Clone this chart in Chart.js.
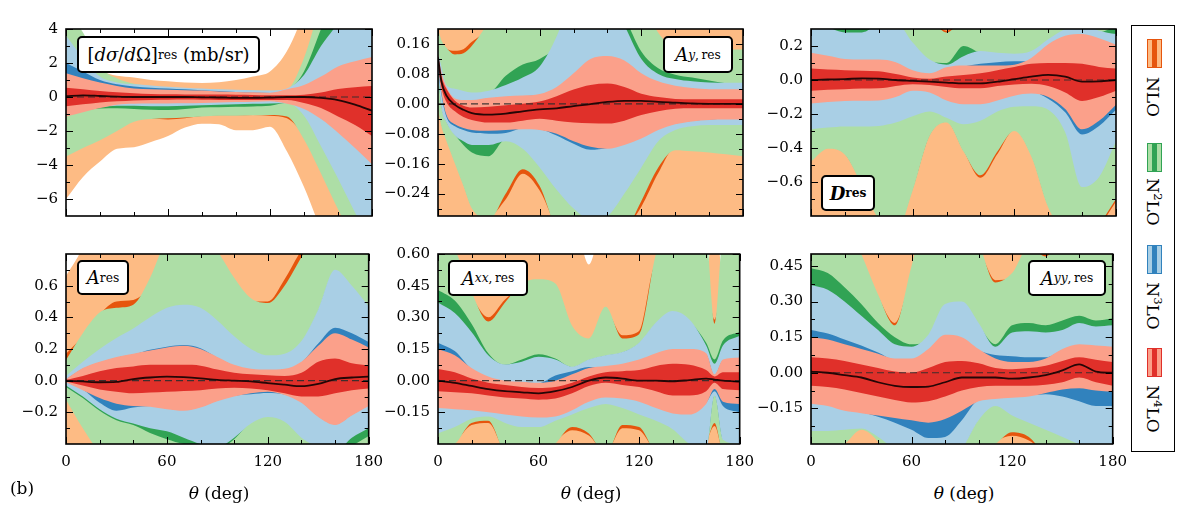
<!DOCTYPE html>
<html>
<head>
<meta charset="utf-8">
<script src="https://cdn.jsdelivr.net/npm/chart.js@4"></script>
<style>
  body { margin: 0; background: #fff; }
  #fig { position: relative; width: 1192px; height: 519px; overflow: hidden; font-family: "DejaVu Serif", serif; color: #000; }
  #fig canvas { position: absolute; z-index: 1; }
  .lab { position: absolute; z-index: 5; box-sizing: border-box; border: 2px solid #000; border-radius: 5px; background: #fff;
         display: flex; align-items: center; justify-content: center; font-size: 18px; white-space: nowrap; }
  sub { font-size: 0.68em; vertical-align: -0.38em; line-height: 0; }
  sup { font-size: 0.68em; vertical-align: 0.45em; line-height: 0; }
  .ax { position: absolute; z-index: 5; font-size: 17px; transform: translate(-50%, -50%); white-space: nowrap; }
  #legend { position: absolute; z-index: 5; left: 1131px; top: 25px; width: 44px; height: 427px; box-sizing: border-box; border: 1.5px solid #000; background: #fff; }
  .sw { position: absolute; width: 15px; height: 29px; box-sizing: border-box; }
  .lt { position: absolute; writing-mode: vertical-rl; font-size: 17px; transform: translate(-50%, -50%); white-space: nowrap; }
</style>
</head>
<body>
<div id="fig">
  <div class="lab" style="left:77px;top:36px;width:183px;height:37px;">[<i>dσ</i>/<i>d</i>Ω]<sub>res</sub>&nbsp;(mb/sr)</div>
  <div class="lab" style="left:663px;top:36px;width:70px;height:37px;"><i>A</i><sub><i>y</i>,&thinsp;res</sub></div>
  <div class="lab" style="left:821px;top:175px;width:54px;height:36px;"><b><i>D</i></b><sub><b>res</b></sub></div>
  <div class="lab" style="left:77px;top:260px;width:52px;height:35px;"><i>A</i><sub>res</sub></div>
  <div class="lab" style="left:448px;top:260px;width:80px;height:36px;"><i>A</i><sub><i>xx</i>,&thinsp;res</sub></div>
  <div class="lab" style="left:1028px;top:260px;width:78px;height:36px;"><i>A</i><sub><i>yy</i>,&thinsp;res</sub></div>

  <div class="ax" style="left:219px;top:493px;"><i>θ</i> (deg)</div>
  <div class="ax" style="left:591px;top:493px;"><i>θ</i> (deg)</div>
  <div class="ax" style="left:964px;top:493px;"><i>θ</i> (deg)</div>
  <div class="ax" style="left:22px;top:488px;">(b)</div>

  <div id="legend"></div>
</div>
<script>
// ---- x axis ticks (deg) ----
const xMajor = [0, 60, 120, 180];
const xMinor = [20, 40, 80, 100, 140, 160];

// ---- [dsigma/dOmega]_res (mb/sr) ----
const dsdoTheta = [0,10,20,30,40,50,60,70,80,90,100,110,120,130,140,150,160,170,180];
const dsdoYRange = [-7, 4];
const dsdoYTicks = [-6, -4, -2, 0, 2, 4];
const dsdoCenter   = [0.05,0.1,0.06,0.02,0,0,0,0,-0.02,-0.03,-0.05,-0.05,-0.03,0,0,-0.05,-0.18,-0.45,-0.8];
const dsdoN4LOhi68 = [0.55,0.45,0.35,0.28,0.22,0.18,0.16,0.15,0.15,0.14,0.13,0.12,0.1,0.1,0.13,0.26,0.47,0.58,0.64];
const dsdoN4LOlo68 = [-0.55,-0.43,-0.32,-0.25,-0.2,-0.17,-0.16,-0.15,-0.16,-0.17,-0.18,-0.18,-0.17,-0.18,-0.35,-0.65,-1.15,-1.65,-2.3];
const dsdoN4LOhi95 = [1.4,1.1,0.85,0.65,0.5,0.45,0.42,0.4,0.38,0.32,0.3,0.28,0.25,0.45,0.7,1.2,1.8,2.1,2.35];
const dsdoN4LOlo95 = [-1.15,-0.9,-0.65,-0.45,-0.4,-0.38,-0.38,-0.37,-0.35,-0.33,-0.3,-0.28,-0.25,-0.4,-0.7,-1.3,-2.1,-3.0,-3.95];
const dsdoN3LOhi95 = [3.6,2.3,1.2,0.85,0.75,0.68,0.6,0.55,0.5,0.45,0.42,0.4,0.38,0.5,1.3,3.0,4.4,6.5,8.5];
const dsdoN3LOhi68 = [2.0,1.5,1.0,0.75,0.62,0.55,0.5,0.45,0.4,0.35,0.29,0.27,0.24,0.3,0.5,0.9,1.5,2.0,2.2];
const dsdoN3LOlo68 = [-0.9,-0.7,-0.5,-0.38,-0.33,-0.32,-0.32,-0.32,-0.3,-0.28,-0.26,-0.24,-0.22,-0.35,-0.6,-1.1,-1.8,-2.6,-3.4];
const dsdoN3LOlo95 = [-1.0,-0.8,-0.6,-0.52,-0.52,-0.55,-0.55,-0.52,-0.48,-0.45,-0.42,-0.4,-0.38,-0.37,-1.1,-2.9,-4.8,-6.8,-8.8];
const dsdoN2LOhi95 = [5.0,3.8,1.8,1.1,0.78,0.65,0.55,0.5,0.45,0.42,0.4,0.38,0.36,0.45,2.3,5.5,8.0,10,12];
const dsdoN2LOhi68 = [3.5,2.2,1.15,0.8,0.7,0.6,0.5,0.45,0.42,0.4,0.38,0.36,0.34,0.42,1.5,4.0,6.5,7.0,8.0];
const dsdoN2LOlo68 = [-0.95,-0.78,-0.68,-0.66,-0.7,-0.75,-0.76,-0.7,-0.62,-0.6,-0.58,-0.56,-0.52,-0.34,-0.9,-2.7,-4.6,-6.6,-8.6];
const dsdoN2LOlo95 = [-3.5,-3.0,-2.55,-2.0,-1.45,-1.3,-1.25,-1.2,-1.15,-1.1,-1.1,-1.08,-1.06,-1.15,-2.5,-4.5,-6.6,-8.5,-10];
const dsdoNLOhi95  = [2.0,1.8,1.5,1.25,1.15,1.0,0.92,0.85,0.83,0.87,1.0,1.2,1.5,2.7,5.0,8.0,11,14,17];
const dsdoNLOhi68  = [1.5,1.3,1.0,0.7,0.5,0.45,0.4,0.35,0.35,0.35,0.35,0.35,0.33,0.4,1.5,3.5,5,7,9];
const dsdoNLOlo68  = [-3.3,-2.9,-2.45,-1.9,-1.4,-1.28,-1.32,-1.25,-1.12,-1.08,-1.08,-1.06,-1.1,-1.25,-2.3,-4.3,-6.4,-8.3,-9.8];
const dsdoNLOlo95  = [-6.0,-4.7,-3.8,-3.05,-2.95,-2.65,-2.3,-1.8,-1.57,-1.6,-1.95,-1.95,-1.75,-3.2,-5.3,-7.8,-10,-12,-14];

// ---- A_y,res ----
const AyTheta = [0,2,5,10,15,20,30,40,50,60,70,80,90,100,110,120,130,140,150,160,170,180];
const AyYRange = [-0.3, 0.2];
const AyYTicks = [-0.24, -0.16, -0.08, 0, 0.08, 0.16];
const AyCenter   = [0.124,0.06,0.022,-0.003,-0.016,-0.025,-0.029,-0.026,-0.02,-0.015,-0.012,-0.006,-0.001,0.005,0.008,0.008,0.005,0.003,0.001,0,0,0];
const AyN4LOhi68 = [0.13,0.075,0.04,0.008,-0.005,-0.01,-0.008,-0.004,0.0,0.006,0.02,0.038,0.05,0.054,0.045,0.027,0.018,0.013,0.012,0.012,0.012,0.012];
const AyN4LOlo68 = [0.11,0.045,0.005,-0.02,-0.035,-0.043,-0.05,-0.05,-0.045,-0.04,-0.045,-0.05,-0.052,-0.053,-0.045,-0.03,-0.02,-0.013,-0.012,-0.012,-0.012,-0.012];
const AyN4LOhi95 = [0.135,0.085,0.045,0.014,0.01,0.01,0.016,0.02,0.022,0.026,0.045,0.082,0.12,0.128,0.116,0.082,0.06,0.048,0.042,0.039,0.039,0.039];
const AyN4LOlo95 = [0.1,0.03,-0.03,-0.055,-0.065,-0.07,-0.072,-0.07,-0.068,-0.07,-0.08,-0.1,-0.115,-0.12,-0.11,-0.093,-0.07,-0.055,-0.047,-0.043,-0.042,-0.042];
const AyN3LOhi95 = [0.14,0.1,0.05,0.04,0.034,0.03,0.035,0.05,0.07,0.1,0.18,0.3,0.35,0.3,0.21,0.12,0.08,0.066,0.06,0.057,0.056,0.056];
const AyN3LOhi68 = [0.132,0.08,0.04,0.01,0.008,0.008,0.014,0.018,0.02,0.024,0.04,0.075,0.11,0.12,0.11,0.078,0.056,0.045,0.04,0.037,0.037,0.037];
const AyN3LOlo68 = [0.09,0.025,-0.035,-0.06,-0.07,-0.077,-0.08,-0.078,-0.066,-0.068,-0.085,-0.107,-0.123,-0.118,-0.105,-0.09,-0.067,-0.053,-0.045,-0.042,-0.04,-0.04];
const AyN3LOlo95 = [0.085,-0.01,-0.05,-0.085,-0.1,-0.11,-0.11,-0.1,-0.12,-0.17,-0.23,-0.28,-0.31,-0.3,-0.24,-0.17,-0.1,-0.07,-0.06,-0.057,-0.057,-0.057];
const AyN2LOhi95 = [0.2,0.17,0.15,0.132,0.135,0.155,0.22,0.3,0.35,0.38,0.4,0.42,0.42,0.4,0.35,0.28,0.19,0.15,0.145,0.145,0.145,0.145];
const AyN2LOhi68 = [0.12,0.06,0.045,0.035,0.03,0.028,0.03,0.075,0.105,0.12,0.16,0.28,0.33,0.29,0.23,0.14,0.095,0.078,0.07,0.062,0.055,0.05];
const AyN2LOlo68 = [0.08,-0.005,-0.048,-0.083,-0.11,-0.13,-0.14,-0.095,-0.115,-0.16,-0.22,-0.27,-0.3,-0.29,-0.23,-0.16,-0.095,-0.065,-0.055,-0.053,-0.053,-0.053];
const AyN2LOlo95 = [-0.016,-0.06,-0.1,-0.16,-0.22,-0.28,-0.31,-0.24,-0.175,-0.22,-0.34,-0.4,-0.42,-0.4,-0.35,-0.26,-0.17,-0.124,-0.127,-0.13,-0.135,-0.14];
const AyNLOhi95  = [0.35,0.35,0.35,0.35,0.35,0.32,0.19,0.2,0.25,0.25,0.25,0.25,0.25,0.25,0.25,0.25,0.3,0.35,0.35,0.35,0.35,0.35];
const AyNLOhi68  = [0.19,0.165,0.148,0.142,0.146,0.166,0.19,0.15,0.15,0.15,0.15,0.15,0.15,0.15,0.15,0.15,0.12,0.12,0.12,0.12,0.12,0.12];
const AyNLOlo68  = [-0.01,-0.055,-0.095,-0.155,-0.215,-0.275,-0.3,-0.255,-0.187,-0.232,-0.33,-0.39,-0.41,-0.39,-0.34,-0.275,-0.185,-0.118,-0.12,-0.125,-0.13,-0.135];
const AyNLOlo95  = [-0.5,-0.5,-0.5,-0.5,-0.5,-0.5,-0.5,-0.5,-0.5,-0.5,-0.5,-0.5,-0.5,-0.5,-0.5,-0.5,-0.5,-0.5,-0.5,-0.5,-0.5,-0.5];

// ---- D_res ----
const DTheta = [0,10,20,30,40,50,60,70,80,90,100,110,120,130,140,150,160,170,180];
const DYRange = [-0.8, 0.3];
const DYTicks = [-0.6, -0.4, -0.2, 0, 0.2];
const DCenter   = [0,0.003,0.005,0.01,0.008,0,-0.005,-0.01,-0.015,-0.02,-0.02,-0.01,0.005,0.02,0.03,0.02,-0.01,-0.008,0];
const DN4LOhi68 = [0.067,0.062,0.058,0.055,0.052,0.035,0.015,0.007,0.02,0.03,0.04,0.058,0.077,0.095,0.1,0.1,0.095,0.077,0.067];
const DN4LOlo68 = [-0.063,-0.058,-0.054,-0.05,-0.049,-0.035,-0.025,-0.03,-0.041,-0.049,-0.049,-0.035,-0.026,-0.022,-0.035,-0.073,-0.123,-0.1,-0.063];
const DN4LOhi95 = [0.16,0.142,0.123,0.12,0.12,0.105,0.058,0.04,0.075,0.085,0.085,0.085,0.09,0.13,0.21,0.26,0.27,0.245,0.207];
const DN4LOlo95 = [-0.138,-0.13,-0.123,-0.122,-0.12,-0.1,-0.063,-0.073,-0.12,-0.142,-0.142,-0.12,-0.092,-0.08,-0.1,-0.17,-0.29,-0.24,-0.145];
const DN3LOhi95 = [0.34,0.31,0.28,0.28,0.33,0.34,0.22,0.12,0.09,0.14,0.17,0.16,0.155,0.17,0.24,0.3,0.33,0.29,0.27];
const DN3LOhi68 = [0.15,0.135,0.115,0.113,0.113,0.1,0.05,0.035,0.07,0.08,0.095,0.105,0.11,0.11,0.15,0.18,0.2,0.2,0.18];
const DN3LOlo68 = [-0.128,-0.12,-0.113,-0.112,-0.11,-0.09,-0.055,-0.065,-0.11,-0.132,-0.132,-0.11,-0.083,-0.07,-0.11,-0.19,-0.32,-0.27,-0.175];
const DN3LOlo95 = [-0.29,-0.28,-0.273,-0.273,-0.27,-0.25,-0.213,-0.185,-0.222,-0.26,-0.24,-0.185,-0.157,-0.155,-0.175,-0.307,-0.63,-0.57,-0.36];
const DN2LOhi95 = [0.4,0.4,0.4,0.4,0.4,0.4,0.4,0.36,0.28,0.36,0.4,0.4,0.4,0.4,0.4,0.4,0.4,0.4,0.4];
const DN2LOhi68 = [0.3,0.3,0.33,0.33,0.3,0.3,0.2,0.11,0.1,0.2,0.16,0.15,0.15,0.16,0.23,0.29,0.32,0.28,0.32];
const DN2LOlo68 = [-0.28,-0.27,-0.263,-0.263,-0.26,-0.24,-0.2,-0.175,-0.21,-0.25,-0.23,-0.175,-0.147,-0.145,-0.165,-0.29,-0.6,-0.55,-0.35];
const DN2LOlo95 = [-0.48,-0.405,-0.44,-0.62,-0.82,-0.9,-0.65,-0.33,-0.25,-0.42,-0.56,-0.42,-0.3,-0.45,-0.75,-0.9,-0.95,-0.85,-0.7];
const DNLOhi95  = [0.5,0.5,0.5,0.5,0.5,0.5,0.5,0.5,0.5,0.5,0.5,0.5,0.5,0.5,0.5,0.5,0.5,0.5,0.5];
const DNLOhi68  = [0.35,0.35,0.35,0.35,0.35,0.35,0.35,0.35,0.29,0.35,0.35,0.35,0.35,0.35,0.35,0.35,0.35,0.35,0.35];
const DNLOlo68  = [-0.47,-0.4,-0.435,-0.61,-0.8,-0.88,-0.64,-0.325,-0.245,-0.415,-0.575,-0.435,-0.295,-0.44,-0.74,-0.88,-0.93,-0.86,-0.715];
const DNLOlo95  = [-1.5,-1.5,-1.5,-1.5,-1.5,-1.5,-1.5,-1.5,-1.5,-1.5,-1.5,-1.5,-1.5,-1.5,-1.5,-1.5,-1.5,-1.5,-1.5];

// ---- A_res ----
const ATheta = [0,10,20,30,40,50,60,70,80,90,100,110,120,130,140,150,160,170,180];
const AYRange = [-0.4, 0.8];
const AYTicks = [-0.2, 0, 0.2, 0.4, 0.6];
const ACenter   = [0,-0.005,-0.01,-0.008,0.01,0.02,0.025,0.022,0.015,0.005,0,-0.005,-0.015,-0.025,-0.035,-0.02,0.01,0.02,0.025];
const AN4LOhi68 = [0.005,0.03,0.06,0.08,0.09,0.1,0.1,0.1,0.095,0.07,0.05,0.04,0.035,0.03,0.05,0.12,0.14,0.11,0.095];
const AN4LOlo68 = [-0.005,-0.03,-0.055,-0.07,-0.08,-0.075,-0.07,-0.065,-0.06,-0.05,-0.045,-0.05,-0.06,-0.08,-0.1,-0.1,-0.08,-0.06,-0.05];
const AN4LOhi95 = [0.01,0.08,0.12,0.15,0.17,0.19,0.21,0.22,0.2,0.15,0.1,0.075,0.07,0.075,0.12,0.22,0.3,0.26,0.21];
const AN4LOlo95 = [-0.01,-0.06,-0.11,-0.145,-0.16,-0.165,-0.18,-0.19,-0.17,-0.13,-0.1,-0.08,-0.07,-0.09,-0.14,-0.23,-0.28,-0.22,-0.16];
const AN3LOhi95 = [0.03,0.12,0.2,0.27,0.33,0.4,0.46,0.48,0.46,0.38,0.28,0.2,0.16,0.17,0.25,0.45,0.7,0.6,0.47];
const AN3LOhi68 = [0.008,0.075,0.115,0.145,0.165,0.195,0.215,0.225,0.205,0.145,0.095,0.07,0.065,0.07,0.115,0.235,0.335,0.3,0.245];
const AN3LOlo68 = [-0.008,-0.055,-0.14,-0.19,-0.17,-0.16,-0.175,-0.185,-0.165,-0.125,-0.095,-0.085,-0.078,-0.088,-0.135,-0.225,-0.275,-0.215,-0.155];
const AN3LOlo95 = [-0.03,-0.1,-0.18,-0.24,-0.27,-0.3,-0.32,-0.36,-0.4,-0.42,-0.36,-0.27,-0.23,-0.26,-0.36,-0.42,-0.45,-0.36,-0.3];
const AN2LOhi95 = [0.13,0.3,0.43,0.46,0.48,0.65,0.9,1.0,0.95,0.82,0.65,0.52,0.49,0.6,0.78,0.95,1.0,1.0,1.0];
const AN2LOhi68 = [0.02,0.11,0.19,0.26,0.32,0.39,0.45,0.47,0.45,0.37,0.27,0.19,0.15,0.16,0.24,0.44,0.69,0.59,0.46];
const AN2LOlo68 = [-0.04,-0.11,-0.19,-0.25,-0.28,-0.33,-0.37,-0.4,-0.41,-0.43,-0.37,-0.26,-0.22,-0.25,-0.35,-0.41,-0.44,-0.41,-0.35];
const AN2LOlo95 = [-0.12,-0.3,-0.45,-0.5,-0.5,-0.5,-0.5,-0.5,-0.5,-0.5,-0.5,-0.5,-0.5,-0.5,-0.5,-0.5,-0.5,-0.5,-0.5];
const ANLOhi95  = [0.66,0.85,1.2,1.2,1.2,1.2,1.2,1.2,1.2,1.2,1.2,1.2,1.2,1.2,1.2,1.2,1.2,1.2,1.2];
const ANLOhi68  = [0.17,0.28,0.42,0.5,0.51,0.6,0.8,0.9,0.85,0.75,0.6,0.5,0.5,0.64,0.82,0.9,0.9,0.9,0.9];
const ANLOlo68  = [-0.11,-0.29,-0.44,-0.49,-0.49,-0.49,-0.49,-0.49,-0.49,-0.49,-0.49,-0.49,-0.49,-0.49,-0.49,-0.49,-0.49,-0.49,-0.49];
const ANLOlo95  = [-1,-1,-1,-1,-1,-1,-1,-1,-1,-1,-1,-1,-1,-1,-1,-1,-1,-1,-1];

// ---- A_xx,res ----
const AxxTheta = [0,10,20,30,40,50,60,70,80,90,100,110,120,130,140,150,160,165,170,180];
const AxxYRange = [-0.3, 0.6];
const AxxYTicks = [-0.15, 0, 0.15, 0.3, 0.45, 0.6];
const AxxCenter   = [0,-0.01,-0.025,-0.04,-0.05,-0.055,-0.06,-0.05,-0.03,0,0.015,0.01,0,0,-0.003,0.003,0.01,0.005,0,-0.005];
const AxxN4LOhi68 = [0.055,0.04,0.01,-0.01,-0.02,-0.03,-0.035,-0.03,-0.01,0.02,0.04,0.045,0.05,0.07,0.08,0.075,0.05,0.02,0.04,0.04];
const AxxN4LOlo68 = [-0.05,-0.055,-0.06,-0.07,-0.08,-0.085,-0.09,-0.085,-0.06,-0.025,-0.01,-0.02,-0.03,-0.05,-0.07,-0.07,-0.05,-0.01,-0.04,-0.045];
const AxxN4LOhi95 = [0.15,0.12,0.06,0.02,0,-0.005,-0.01,0,0.03,0.06,0.07,0.08,0.1,0.13,0.15,0.15,0.13,0.03,0.1,0.11];
const AxxN4LOlo95 = [-0.13,-0.135,-0.14,-0.15,-0.16,-0.17,-0.175,-0.17,-0.14,-0.1,-0.08,-0.085,-0.1,-0.13,-0.155,-0.16,-0.11,-0.04,-0.1,-0.11];
const AxxN3LOhi95 = [0.37,0.32,0.23,0.12,0.077,0.09,0.113,0.1,0.066,0.1,0.12,0.136,0.18,0.275,0.33,0.29,0.167,0.08,0.167,0.213];
const AxxN3LOhi68 = [0.18,0.14,0.055,0.015,-0.005,-0.008,-0.012,0.025,0.045,0.065,0.065,0.075,0.095,0.125,0.145,0.145,0.125,0.025,0.095,0.105];
const AxxN3LOlo68 = [-0.125,-0.13,-0.135,-0.145,-0.155,-0.165,-0.17,-0.165,-0.135,-0.095,-0.075,-0.08,-0.095,-0.125,-0.15,-0.155,-0.105,-0.05,-0.12,-0.15];
const AxxN3LOlo95 = [-0.25,-0.22,-0.18,-0.17,-0.2,-0.22,-0.22,-0.19,-0.16,-0.13,-0.11,-0.13,-0.16,-0.19,-0.23,-0.3,-0.33,-0.07,-0.28,-0.3];
const AxxN2LOhi95 = [0.7,0.62,0.42,0.28,0.37,0.46,0.48,0.46,0.26,0.2,0.35,0.2,0.22,0.6,0.8,0.8,0.7,0.27,0.7,0.8];
const AxxN2LOhi68 = [0.43,0.38,0.27,0.13,0.075,0.1,0.125,0.105,0.064,0.098,0.118,0.134,0.176,0.27,0.32,0.28,0.18,0.1,0.19,0.23];
const AxxN2LOlo68 = [-0.245,-0.215,-0.175,-0.165,-0.195,-0.215,-0.215,-0.185,-0.155,-0.125,-0.105,-0.125,-0.155,-0.185,-0.225,-0.295,-0.325,-0.065,-0.275,-0.295];
const AxxN2LOlo95 = [-0.32,-0.3,-0.2,-0.19,-0.35,-0.4,-0.38,-0.3,-0.22,-0.25,-0.35,-0.21,-0.22,-0.35,-0.4,-0.4,-0.3,-0.2,-0.35,-0.4];
const AxxNLOhi95  = [0.65,0.7,0.8,0.8,0.8,0.8,0.8,0.8,0.8,0.55,0.8,0.8,0.8,0.65,0.5,0.5,0.5,0.8,0.5,0.5];
const AxxNLOhi68  = [0.6,0.55,0.4,0.3,0.385,0.44,0.45,0.44,0.25,0.19,0.33,0.215,0.235,0.55,0.45,0.45,0.45,0.29,0.45,0.45];
const AxxNLOlo68  = [-0.31,-0.29,-0.21,-0.2,-0.34,-0.39,-0.37,-0.29,-0.235,-0.26,-0.34,-0.225,-0.235,-0.34,-0.39,-0.39,-0.29,-0.215,-0.34,-0.39];
const AxxNLOlo95  = [-1,-1,-1,-1,-1,-1,-1,-1,-1,-1,-1,-1,-1,-1,-1,-1,-1,-1,-1,-1];

// ---- A_yy,res ----
const AyyTheta = [0,10,20,30,40,50,60,70,80,90,100,110,120,130,140,150,160,170,180];
const AyyYRange = [-0.3, 0.5];
const AyyYTicks = [-0.15, 0, 0.15, 0.3, 0.45];
const AyyCenter   = [0.005,0,-0.01,-0.02,-0.04,-0.055,-0.06,-0.058,-0.04,-0.02,-0.02,-0.02,-0.025,-0.02,-0.01,0.01,0.035,0.005,0];
const AyyN4LOhi68 = [0.065,0.06,0.05,0.035,0.02,0.005,0,0.02,0.045,0.05,0.04,0.02,0.015,0.02,0.03,0.05,0.065,0.055,0.045];
const AyyN4LOlo68 = [-0.055,-0.06,-0.07,-0.085,-0.1,-0.115,-0.125,-0.12,-0.1,-0.075,-0.06,-0.055,-0.055,-0.055,-0.05,-0.04,-0.02,-0.04,-0.055];
const AyyN4LOhi95 = [0.15,0.14,0.12,0.1,0.08,0.06,0.06,0.1,0.16,0.15,0.1,0.06,0.045,0.045,0.06,0.1,0.12,0.115,0.11];
const AyyN4LOlo95 = [-0.13,-0.14,-0.16,-0.17,-0.18,-0.19,-0.2,-0.21,-0.195,-0.16,-0.12,-0.11,-0.105,-0.1,-0.085,-0.07,-0.065,-0.075,-0.08];
const AyyN3LOhi95 = [0.37,0.35,0.3,0.24,0.18,0.12,0.11,0.16,0.29,0.3,0.21,0.11,0.17,0.175,0.17,0.18,0.21,0.195,0.2];
const AyyN3LOhi68 = [0.18,0.165,0.14,0.115,0.085,0.055,0.055,0.095,0.155,0.145,0.095,0.075,0.07,0.065,0.065,0.095,0.115,0.11,0.105];
const AyyN3LOlo68 = [-0.125,-0.135,-0.155,-0.165,-0.185,-0.21,-0.24,-0.275,-0.27,-0.2,-0.115,-0.105,-0.1,-0.095,-0.09,-0.1,-0.12,-0.14,-0.14];
const AyyN3LOlo95 = [-0.245,-0.245,-0.24,-0.235,-0.27,-0.32,-0.34,-0.36,-0.36,-0.32,-0.2,-0.14,-0.18,-0.21,-0.24,-0.27,-0.3,-0.32,-0.33];
const AyyN2LOhi95 = [0.7,0.7,0.65,0.5,0.33,0.2,0.45,0.7,0.7,0.7,0.55,0.38,0.42,0.53,0.49,0.6,0.7,0.7,0.7];
const AyyN2LOhi68 = [0.44,0.42,0.36,0.29,0.21,0.15,0.12,0.14,0.28,0.29,0.2,0.12,0.2,0.21,0.2,0.22,0.24,0.22,0.23];
const AyyN2LOlo68 = [-0.24,-0.24,-0.235,-0.23,-0.265,-0.315,-0.335,-0.355,-0.355,-0.315,-0.195,-0.135,-0.175,-0.205,-0.235,-0.265,-0.295,-0.315,-0.325];
const AyyN2LOlo95 = [-0.35,-0.33,-0.3,-0.24,-0.29,-0.4,-0.4,-0.4,-0.4,-0.4,-0.35,-0.3,-0.25,-0.27,-0.35,-0.4,-0.4,-0.4,-0.4];
const AyyNLOhi95  = [0.6,0.6,0.6,0.8,0.8,0.8,0.8,0.6,0.6,0.6,0.8,0.8,0.8,0.55,0.55,0.5,0.5,0.5,0.5];
const AyyNLOhi68  = [0.5,0.5,0.5,0.45,0.32,0.21,0.4,0.5,0.5,0.5,0.5,0.39,0.4,0.5,0.5,0.5,0.5,0.5,0.5];
const AyyNLOlo68  = [-0.34,-0.32,-0.29,-0.235,-0.28,-0.39,-0.39,-0.39,-0.39,-0.39,-0.34,-0.29,-0.265,-0.285,-0.34,-0.39,-0.39,-0.39,-0.39];
const AyyNLOlo95  = [-1,-1,-1,-1,-1,-1,-1,-1,-1,-1,-1,-1,-1,-1,-1,-1,-1,-1,-1];

// ---- styling ----
const orders = ['NLO', 'N2LO', 'N3LO', 'N4LO'];
const orderLabels = ['NLO', 'N<sup>2</sup>LO', 'N<sup>3</sup>LO', 'N<sup>4</sup>LO'];
const palette = {
  NLO:  { light: '#fdbb84', dark: '#e6550d' },
  N2LO: { light: '#addea6', dark: '#31a354' },
  N3LO: { light: '#a9cfe5', dark: '#3182bd' },
  N4LO: { light: '#fba08a', dark: '#e0302a' }
};

// chart area boxes: [left, top, right, bottom] in page pixels
const panels = [
  { box: [66, 24, 372, 221], xlab: false, range: dsdoYRange, yticks: dsdoYTicks, dec: 0, theta: dsdoTheta, center: dsdoCenter,
    bands: [[dsdoNLOlo95, dsdoNLOlo68, dsdoNLOhi68, dsdoNLOhi95], [dsdoN2LOlo95, dsdoN2LOlo68, dsdoN2LOhi68, dsdoN2LOhi95],
            [dsdoN3LOlo95, dsdoN3LOlo68, dsdoN3LOhi68, dsdoN3LOhi95], [dsdoN4LOlo95, dsdoN4LOlo68, dsdoN4LOhi68, dsdoN4LOhi95]] },
  { box: [438, 24, 743, 221], xlab: false, range: AyYRange, yticks: AyYTicks, dec: 2, theta: AyTheta, center: AyCenter,
    bands: [[AyNLOlo95, AyNLOlo68, AyNLOhi68, AyNLOhi95], [AyN2LOlo95, AyN2LOlo68, AyN2LOhi68, AyN2LOhi95],
            [AyN3LOlo95, AyN3LOlo68, AyN3LOhi68, AyN3LOhi95], [AyN4LOlo95, AyN4LOlo68, AyN4LOhi68, AyN4LOhi95]] },
  { box: [811, 24, 1116, 221], xlab: false, range: DYRange, yticks: DYTicks, dec: 1, theta: DTheta, center: DCenter,
    bands: [[DNLOlo95, DNLOlo68, DNLOhi68, DNLOhi95], [DN2LOlo95, DN2LOlo68, DN2LOhi68, DN2LOhi95],
            [DN3LOlo95, DN3LOlo68, DN3LOhi68, DN3LOhi95], [DN4LOlo95, DN4LOlo68, DN4LOhi68, DN4LOhi95]] },
  { box: [66, 249, 372, 444], xlab: true, range: AYRange, yticks: AYTicks, dec: 1, theta: ATheta, center: ACenter,
    bands: [[ANLOlo95, ANLOlo68, ANLOhi68, ANLOhi95], [AN2LOlo95, AN2LOlo68, AN2LOhi68, AN2LOhi95],
            [AN3LOlo95, AN3LOlo68, AN3LOhi68, AN3LOhi95], [AN4LOlo95, AN4LOlo68, AN4LOhi68, AN4LOhi95]] },
  { box: [438, 249, 743, 444], xlab: true, range: AxxYRange, yticks: AxxYTicks, dec: 2, theta: AxxTheta, center: AxxCenter,
    bands: [[AxxNLOlo95, AxxNLOlo68, AxxNLOhi68, AxxNLOhi95], [AxxN2LOlo95, AxxN2LOlo68, AxxN2LOhi68, AxxN2LOhi95],
            [AxxN3LOlo95, AxxN3LOlo68, AxxN3LOhi68, AxxN3LOhi95], [AxxN4LOlo95, AxxN4LOlo68, AxxN4LOhi68, AxxN4LOhi95]] },
  { box: [811, 249, 1116, 444], xlab: true, range: AyyYRange, yticks: AyyYTicks, dec: 2, theta: AyyTheta, center: AyyCenter,
    bands: [[AyyNLOlo95, AyyNLOlo68, AyyNLOhi68, AyyNLOhi95], [AyyN2LOlo95, AyyN2LOlo68, AyyN2LOhi68, AyyN2LOhi95],
            [AyyN3LOlo95, AyyN3LOlo68, AyyN3LOhi68, AyyN3LOhi95], [AyyN4LOlo95, AyyN4LOlo68, AyyN4LOhi68, AyyN4LOhi95]] }
];

const YW = 62, PAD_T = 12, PAD_R = 20;
const tickFont = { family: 'DejaVu Serif', size: 15 };

function fmt(v, dec) {
  const s = Math.abs(v).toFixed(dec);
  return (v < 0 && Number(s) !== 0 ? '\u2212' : '') + s;
}

// inward tick marks and black frame, matplotlib style
const framePlugin = {
  id: 'frame',
  afterDraw(chart, args, opts) {
    const { ctx, chartArea: a, scales: { x, y } } = chart;
    const seg = (x1, y1, x2, y2) => { ctx.beginPath(); ctx.moveTo(x1, y1); ctx.lineTo(x2, y2); ctx.stroke(); };
    ctx.save();
    ctx.strokeStyle = '#000';
    ctx.lineWidth = 1;
    xMajor.forEach(v => { const p = Math.round(x.getPixelForValue(v)) + 0.5; seg(p, a.bottom, p, a.bottom - 7); seg(p, a.top, p, a.top + 7); });
    xMinor.forEach(v => { const p = Math.round(x.getPixelForValue(v)) + 0.5; seg(p, a.bottom, p, a.bottom - 4); seg(p, a.top, p, a.top + 4); });
    const maj = opts.major, step = maj[1] - maj[0];
    const minors = [];
    for (let v = maj[0] - step / 2; v > opts.min; v -= step) minors.push(v);
    for (let i = 0; i < maj.length - 1; i++) minors.push((maj[i] + maj[i + 1]) / 2);
    for (let v = maj[maj.length - 1] + step / 2; v < opts.max; v += step) minors.push(v);
    maj.forEach(v => { const p = Math.round(y.getPixelForValue(v)) + 0.5; seg(a.left, p, a.left + 7, p); seg(a.right, p, a.right - 7, p); });
    minors.forEach(v => { const p = Math.round(y.getPixelForValue(v)) + 0.5; seg(a.left, p, a.left + 4, p); seg(a.right, p, a.right - 4, p); });
    ctx.lineWidth = 1.6;
    ctx.strokeRect(a.left, a.top, a.right - a.left, a.bottom - a.top);
    ctx.restore();
  }
};

function buildSets(p) {
  const pts = arr => p.theta.map((t, i) => ({ x: t, y: arr[i] }));
  const base = { pointRadius: 0, borderWidth: 0, borderColor: 'rgba(0,0,0,0)', cubicInterpolationMode: 'monotone' };
  const sets = [];
  p.bands.forEach((b, k) => {
    const col = palette[orders[k]];
    const ord = 100 - 2 * k;
    sets.push({ ...base, data: pts(b[0]), fill: false, order: ord });
    sets.push({ ...base, data: pts(b[3]), fill: '-1', backgroundColor: col.light, order: ord });
    sets.push({ ...base, data: pts(b[1]), fill: false, order: ord - 1 });
    sets.push({ ...base, data: pts(b[2]), fill: '-1', backgroundColor: col.dark, order: ord - 1 });
  });
  sets.push({ data: [{ x: 0, y: 0 }, { x: 180, y: 0 }], pointRadius: 0, borderColor: 'rgba(45,45,45,0.9)', borderWidth: 1.2,
              borderDash: [7, 4], fill: false, order: 2 });
  sets.push({ ...base, data: pts(p.center), borderColor: '#240606', borderWidth: 1.8, fill: false, order: 1 });
  return sets;
}

const fig = document.getElementById('fig');
panels.forEach(p => {
  const [L, T, R, B] = p.box;
  const xh = p.xlab ? 34 : 12;
  const cv = document.createElement('canvas');
  cv.width = R - L + YW + PAD_R;
  cv.height = B - T + PAD_T + xh;
  cv.style.left = (L - YW) + 'px';
  cv.style.top = (T - PAD_T) + 'px';
  fig.insertBefore(cv, fig.firstChild);
  new Chart(cv, {
    type: 'line',
    data: { datasets: buildSets(p) },
    options: {
      responsive: false, animation: false, devicePixelRatio: 1, events: [],
      layout: { padding: { left: 0, top: PAD_T, right: PAD_R, bottom: 0 } },
      plugins: { legend: { display: false }, tooltip: { enabled: false },
                 frame: { major: p.yticks, min: p.range[0], max: p.range[1] } },
      scales: {
        x: {
          type: 'linear', min: 0, max: 180,
          grid: { display: false, drawTicks: false }, border: { display: false },
          afterBuildTicks: s => { s.ticks = xMajor.map(v => ({ value: v })); },
          afterFit: s => { s.height = xh; },
          ticks: { display: p.xlab, font: tickFont, color: '#000', padding: 9, maxRotation: 0, autoSkip: false }
        },
        y: {
          type: 'linear', min: p.range[0], max: p.range[1],
          grid: { display: false, drawTicks: false }, border: { display: false },
          afterBuildTicks: s => { s.ticks = p.yticks.map(v => ({ value: v })); },
          afterFit: s => { s.width = YW; },
          ticks: { font: tickFont, color: '#000', padding: 8, autoSkip: false, callback: v => fmt(v, p.dec) }
        }
      }
    },
    plugins: [framePlugin]
  });
});

// legend (vertical, rotated text)
const legend = document.getElementById('legend');
const swTops = [13, 117, 219, 322];
const txtMid = [71, 176, 280, 383];
orders.forEach((o, k) => {
  const sw = document.createElement('div');
  sw.className = 'sw';
  sw.style.left = '14.5px';
  sw.style.top = swTops[k] + 'px';
  sw.style.border = '1px solid ' + palette[o].dark;
  sw.style.background = 'linear-gradient(to right,' + palette[o].light + ' 0 32%,' + palette[o].dark + ' 32% 68%,' + palette[o].light + ' 68% 100%)';
  legend.appendChild(sw);
  const t = document.createElement('div');
  t.className = 'lt';
  t.style.left = '21px';
  t.style.top = txtMid[k] + 'px';
  t.innerHTML = orderLabels[k];
  legend.appendChild(t);
});
</script>
</body>
</html>
